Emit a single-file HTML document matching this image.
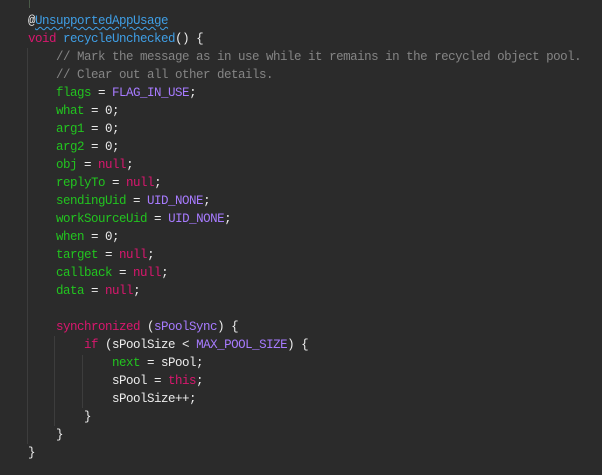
<!DOCTYPE html>
<html><head><meta charset="utf-8"><style>
html,body{margin:0;padding:0;background:#2b2b2b;width:602px;height:475px;overflow:hidden;position:relative}
pre{position:absolute;left:28px;top:12px;margin:0;font-family:"Liberation Mono",monospace;font-size:12.5px;line-height:18px;color:#ececec;letter-spacing:-0.5px}
.k{color:#d9176e}.f{color:#3f9fe6}.g{color:#22c41f}.p{color:#a77bff}.c{color:#858585}
.u{color:#3f9fe6;text-decoration:underline wavy #3f9fe6;text-decoration-thickness:1px;text-underline-offset:2px}
.gd{position:absolute;width:1px;background:#3d3d3d}
</style></head><body>
<div class="gd" style="left:29px;top:0;height:8px;background:#4a5a48"></div>
<div class="gd" style="left:27px;top:48px;height:396px"></div>
<div class="gd" style="left:54px;top:336px;height:90px"></div>
<div class="gd" style="left:82px;top:355px;height:53px"></div>
<pre>@<span class="u">UnsupportedAppUsage</span>
<span class="k">void</span> <span class="f">recycleUnchecked</span>() {
    <span class="c">// Mark the message as in use while it remains in the recycled object pool.</span>
    <span class="c">// Clear out all other details.</span>
    <span class="g">flags</span> = <span class="p">FLAG_IN_USE</span>;
    <span class="g">what</span> = 0;
    <span class="g">arg1</span> = 0;
    <span class="g">arg2</span> = 0;
    <span class="g">obj</span> = <span class="k">null</span>;
    <span class="g">replyTo</span> = <span class="k">null</span>;
    <span class="g">sendingUid</span> = <span class="p">UID_NONE</span>;
    <span class="g">workSourceUid</span> = <span class="p">UID_NONE</span>;
    <span class="g">when</span> = 0;
    <span class="g">target</span> = <span class="k">null</span>;
    <span class="g">callback</span> = <span class="k">null</span>;
    <span class="g">data</span> = <span class="k">null</span>;

    <span class="k">synchronized</span> (<span class="p">sPoolSync</span>) {
        <span class="k">if</span> (sPoolSize &lt; <span class="p">MAX_POOL_SIZE</span>) {
            <span class="g">next</span> = sPool;
            sPool = <span class="k">this</span>;
            sPoolSize++;
        }
    }
}</pre>
</body></html>
